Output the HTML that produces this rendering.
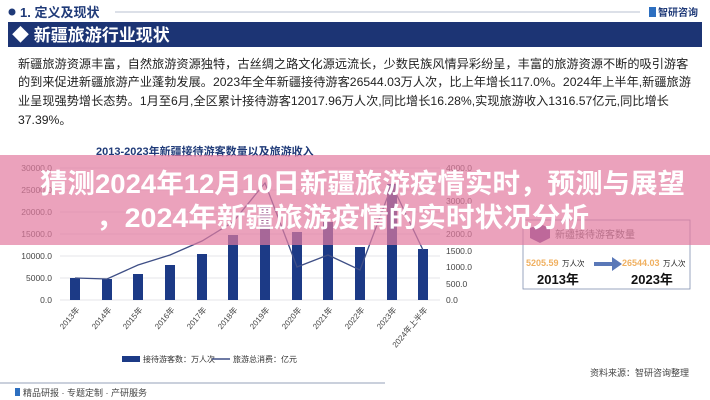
<!DOCTYPE html>
<html><head><meta charset="utf-8"><style>
html,body{margin:0;padding:0;background:#fff;}
body{width:710px;height:400px;overflow:hidden;position:relative;font-family:"Liberation Sans","Noto Sans CJK SC",sans-serif;}
</style></head><body>
<svg width="710" height="400" viewBox="0 0 710 400" xmlns="http://www.w3.org/2000/svg" style="position:absolute;left:0;top:0;font-family:'Liberation Sans','Noto Sans CJK SC',sans-serif">
<rect width="710" height="400" fill="#fff"/>
<circle cx="12" cy="12" r="3.5" fill="#1f3a78"/>
<text x="20" y="17" font-size="13" font-weight="bold" fill="#1f3a78">1. 定义及现状</text>
<line x1="115" y1="12" x2="640" y2="12" stroke="#b8c0d0" stroke-width="1"/>
<rect x="649" y="7" width="7" height="10" fill="#2d6fc0"/>
<text x="658" y="16" font-size="10" font-weight="bold" fill="#1f3a78">智研咨询</text>
<rect x="8" y="22" width="694" height="25" fill="#1c3474"/>
<text x="12" y="41" font-size="17" font-weight="bold" fill="#fff">◆ 新疆旅游行业现状</text>
<g font-size="12.2" fill="#222">
<text x="18" y="68">新疆旅游资源丰富，自然旅游资源独特，古丝绸之路文化源远流长，少数民族风情异彩纷呈，丰富的旅游资源不断的吸引游客</text>
<text x="18" y="86">的到来促进新疆旅游产业蓬勃发展。2023年全年新疆接待游客26544.03万人次，比上年增长117.0%。2024年上半年,新疆旅游</text>
<text x="18" y="105">业呈现强势增长态势。1月至6月,全区累计接待游客12017.96万人次,同比增长16.28%,实现旅游收入1316.57亿元,同比增长</text>
<text x="18" y="124">37.39%。</text>
</g>
<text x="96" y="155" font-size="11" font-weight="bold" fill="#1f3a78">2013-2023年新疆接待游客数量以及旅游收入</text>
<g stroke="#e4e6ea" stroke-width="1">
<line x1="60" y1="300" x2="440" y2="300"/><line x1="60" y1="278" x2="440" y2="278"/><line x1="60" y1="256" x2="440" y2="256"/><line x1="60" y1="234" x2="440" y2="234"/><line x1="60" y1="212" x2="440" y2="212"/><line x1="60" y1="190" x2="440" y2="190"/><line x1="60" y1="168" x2="440" y2="168"/>
</g>
<g font-size="8.5" fill="#444" text-anchor="end">
<text x="52" y="303">0.0</text><text x="52" y="281">5000.0</text><text x="52" y="259">10000.0</text><text x="52" y="237">15000.0</text><text x="52" y="215">20000.0</text><text x="52" y="193">25000.0</text><text x="52" y="171">30000.0</text>
</g>
<g font-size="8.5" fill="#444">
<text x="446" y="303">0.0</text><text x="446" y="287">500.0</text><text x="446" y="270">1000.0</text><text x="446" y="254">1500.0</text><text x="446" y="237">2000.0</text><text x="446" y="204">3000.0</text><text x="446" y="171">4000.0</text>
</g>
<g fill="#1c3a86">
<rect x="70" y="278" width="10" height="22"/><rect x="102" y="279" width="10" height="21"/><rect x="133" y="274" width="10" height="26"/><rect x="165" y="265" width="10" height="35"/><rect x="197" y="254" width="10" height="46"/><rect x="228" y="235" width="10" height="65"/><rect x="260" y="207" width="10" height="93"/><rect x="292" y="232" width="10" height="68"/><rect x="323" y="222" width="10" height="78"/><rect x="355" y="247" width="10" height="53"/><rect x="387" y="184" width="10" height="116"/><rect x="418" y="249" width="10" height="51"/>
</g>
<polyline fill="none" stroke="#3f4f86" stroke-width="1.3" points="75,278 107,279 138,265 170,255 202,241 233,222 265,183 297,267 328,255 360,270 392,185 423,250"/>
<g font-size="8" fill="#444">
<text transform="translate(80,310) rotate(-50)" text-anchor="end">2013年</text>
<text transform="translate(112,310) rotate(-50)" text-anchor="end">2014年</text>
<text transform="translate(143,310) rotate(-50)" text-anchor="end">2015年</text>
<text transform="translate(175,310) rotate(-50)" text-anchor="end">2016年</text>
<text transform="translate(207,310) rotate(-50)" text-anchor="end">2017年</text>
<text transform="translate(238,310) rotate(-50)" text-anchor="end">2018年</text>
<text transform="translate(270,310) rotate(-50)" text-anchor="end">2019年</text>
<text transform="translate(302,310) rotate(-50)" text-anchor="end">2020年</text>
<text transform="translate(333,310) rotate(-50)" text-anchor="end">2021年</text>
<text transform="translate(365,310) rotate(-50)" text-anchor="end">2022年</text>
<text transform="translate(397,310) rotate(-50)" text-anchor="end">2023年</text>
<text transform="translate(428,310) rotate(-50)" text-anchor="end">2024年上半年</text>
</g>
<rect x="122" y="356" width="18" height="6" fill="#1c3a86"/>
<text x="143" y="362" font-size="8" fill="#333">接待游客数：万人次</text>
<line x1="212" y1="359" x2="230" y2="359" stroke="#3f4f86" stroke-width="1.5"/>
<text x="233" y="362" font-size="8" fill="#333">旅游总消费：亿元</text>
<rect x="523" y="220" width="167" height="69" fill="#fff" stroke="#8090b0" stroke-width="0.8"/>
<path d="M530 228 l10 -4 l10 4 v10 l-10 5 l-10 -5z" fill="#6a3e8e"/>
<text x="555" y="238" font-size="10" fill="#555">新疆接待游客数量</text>
<text x="526" y="266" font-size="9" font-weight="bold" fill="#f0b060">5205.59</text>
<text x="562" y="266" font-size="7.5" fill="#222">万人次</text>
<path d="M594 262 h18 v-5 l10 7 l-10 7 v-5 h-18z" fill="#5a78b8"/>
<text x="622" y="266" font-size="9" font-weight="bold" fill="#f0b060">26544.03</text>
<text x="663" y="266" font-size="7.5" fill="#222">万人次</text>
<text x="537" y="284" font-size="13" font-weight="bold" fill="#111">2013年</text>
<text x="631" y="284" font-size="13" font-weight="bold" fill="#111">2023年</text>
<text x="590" y="376" font-size="9" fill="#444">资料来源：智研咨询整理</text>
<line x1="0" y1="383" x2="385" y2="383" stroke="#b8c0d0" stroke-width="1.5"/>
<rect x="15" y="388" width="5" height="8" fill="#2d6fc0"/>
<text x="23" y="396" font-size="9" fill="#444">精品研报 · 专题定制 · 产研服务</text>
<rect x="0" y="155" width="710" height="90" fill="#e27aa0" opacity="0.7"/>
<text x="40" y="193" font-size="27" font-weight="bold" fill="#fff" textLength="645" lengthAdjust="spacingAndGlyphs">猜测2024年12月10日新疆旅游疫情实时，预测与展望</text>
<text x="96" y="227" font-size="27" font-weight="bold" fill="#fff" textLength="493" lengthAdjust="spacingAndGlyphs">，2024年新疆旅游疫情的实时状况分析</text>
</svg>
</body></html>
